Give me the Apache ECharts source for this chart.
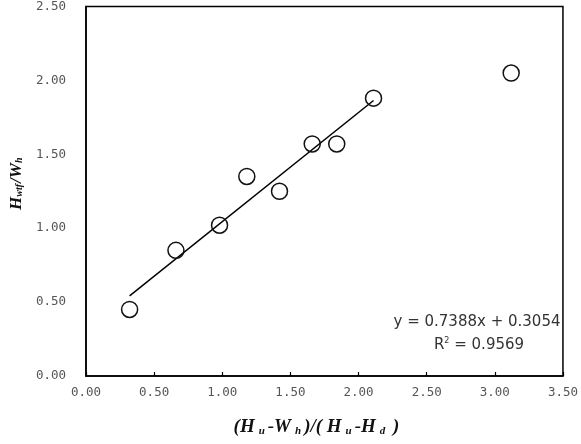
<!DOCTYPE html>
<html>
<head>
<meta charset="utf-8">
<script src="https://cdn.jsdelivr.net/npm/echarts@6/dist/echarts.min.js"></script>
<style>html,body{margin:0;padding:0;background:#fff;}#c{width:581px;height:444px;}</style>
</head>
<body>
<div id="c"></div>
<script>
// Data
const pointsX = [0.32, 0.66, 0.98, 1.18, 1.42, 1.66, 1.84, 2.11, 3.12];
const pointsY = [0.45, 0.85, 1.02, 1.35, 1.25, 1.57, 1.57, 1.88, 2.05];
const fitCount = 8; // first 8 points used for the regression
const slope = 0.7388;
const intercept = 0.3054;
const r2 = 0.9569;
const xTicks = [0, 0.5, 1, 1.5, 2, 2.5, 3, 3.5];
const yTicks = [0, 0.5, 1, 1.5, 2, 2.5];

const scatterData = pointsX.map((x, i) => [x, pointsY[i]]);
const fitX = pointsX.slice(0, fitCount);
const x0 = Math.min(...fitX), x1 = Math.max(...fitX);
const trendData = [[x0, slope * x0 + intercept], [x1, slope * x1 + intercept]];

const labelFont = { fontFamily: 'DejaVu Sans Mono', fontSize: 12.5, color: '#555' };
const serif = 'Liberation Serif';

const chart = echarts.init(document.getElementById('c'), null, { renderer: 'canvas' });
chart.setOption({
  animation: false,
  backgroundColor: '#fff',
  grid: { left: 84, right: 14, top: 6, bottom: 68, show: true, borderColor: '#000', borderWidth: 1.5, backgroundColor: 'transparent' },
  xAxis: {
    type: 'value', min: xTicks[0], max: xTicks[xTicks.length - 1], interval: 0.5,
    axisLine: { show: true, lineStyle: { color: '#000', width: 1.5 } },
    axisTick: { show: true, inside: true, length: 4, lineStyle: { color: '#000', width: 1.2 } },
    splitLine: { show: false },
    axisLabel: Object.assign({ margin: 10, formatter: v => v.toFixed(2) }, labelFont),
    name: '{b|(H}{s|u}{b|-W}{s|h}{b|)/( H}{s|u}{b|-H}{s|d}{b| )}',
    nameLocation: 'middle', nameGap: 42,
    nameTextStyle: {
      padding: [0, 16, 0, 0],
      rich: {
        b: { fontFamily: serif, fontSize: 19, fontWeight: 'bold', fontStyle: 'italic', color: '#111' },
        s: { fontFamily: serif, fontSize: 11, fontStyle: 'italic', fontWeight: 'bold', color: '#111', padding: [8, 3, 0, 4] }
      }
    }
  },
  yAxis: {
    type: 'value', min: yTicks[0], max: yTicks[yTicks.length - 1], interval: 0.5,
    axisLine: { show: true, lineStyle: { color: '#000', width: 1.5 } },
    axisTick: { show: false },
    splitLine: { show: false },
    axisLabel: Object.assign({ margin: 20, formatter: v => v.toFixed(2) }, labelFont),
    name: '{b|H}{s|wtf}{b|/W}{s|h}',
    nameLocation: 'middle', nameGap: 58,
    nameTextStyle: {
      padding: [0, 0, 0, 16],
      rich: {
        b: { fontFamily: serif, fontSize: 17, fontWeight: 'bold', fontStyle: 'italic', color: '#111' },
        s: { fontFamily: serif, fontSize: 10, fontStyle: 'italic', fontWeight: 'bold', color: '#111', padding: [6, 1, 0, 0] }
      }
    }
  },
  series: [
    {
      type: 'line', data: trendData, symbol: 'none', silent: true,
      lineStyle: { color: '#000', width: 1.5 }, z: 2
    },
    {
      type: 'scatter', data: scatterData, symbol: 'circle', symbolSize: 16,
      itemStyle: { color: 'transparent', borderColor: '#111', borderWidth: 1.5, opacity: 1 }, z: 3
    }
  ],
  graphic: [
    {
      type: 'text', x: 477, y: 322,
      style: { text: 'y = ' + slope.toFixed(4) + 'x + ' + intercept.toFixed(4), fontFamily: 'DejaVu Sans', fontSize: 15, fill: '#333', align: 'center', verticalAlign: 'middle' }
    },
    {
      type: 'text', x: 479, y: 345,
      style: {
        text: '{n|R}{sup|2}{n| = ' + r2.toFixed(4) + '}', align: 'center', verticalAlign: 'middle',
        rich: {
          n: { fontFamily: 'DejaVu Sans', fontSize: 15, fill: '#333' },
          sup: { fontFamily: 'DejaVu Sans', fontSize: 8, fill: '#333', padding: [0, 0, 9, 0] }
        }
      }
    }
  ]
});
</script>
</body>
</html>
